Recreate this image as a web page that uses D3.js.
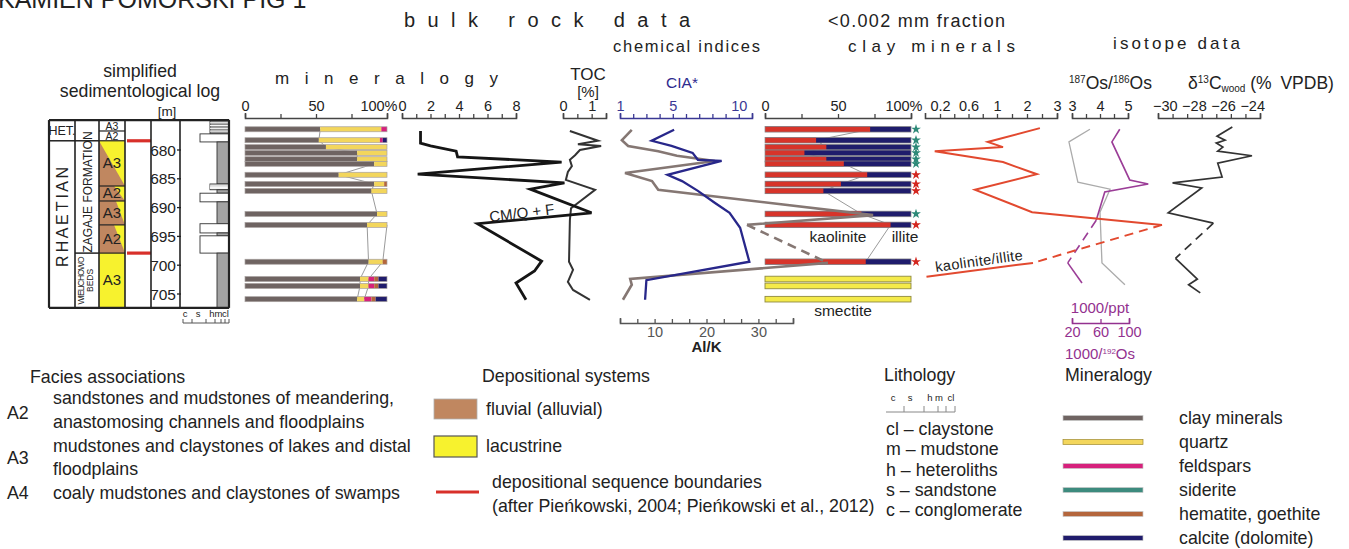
<!DOCTYPE html>
<html>
<head>
<meta charset="utf-8">
<script src="https://cdnjs.cloudflare.com/ajax/libs/d3/7.8.5/d3.min.js"></script>
<style>
  body { margin: 0; background: #fff; }
  text { font-family: "Liberation Sans", Arial, Helvetica, sans-serif; fill: #222; }
</style>
</head>
<body>
<script>
// ---- data ----
const depthTicks = [680, 685, 690, 695, 700, 705];
// sample depths of the bulk rock / clay fraction bars (m)
const sampleDepth = [676.4, 678.3, 679.5, 680.5, 681.6, 682.4, 684.3, 685.9, 687.1, 691.1, 693.0, 699.4, 702.4, 703.6, 705.9];

const mineralNames = ["clay minerals", "quartz", "feldspars", "siderite", "hematite, goethite", "calcite (dolomite)"];
const mineralColors = ["#6f6462", "#f3d65c", "#d6217c", "#3d8b7e", "#b4663c", "#201c6c"];
const clayPct     = [53, 52, 57, 79, 79, 91, 66, 91, 89, 93, 86, 87, 81, 81, 79];
const quartzPct   = [43, 43, 43, 21, 21,  9, 34,  7, 11,  7, 14, 10,  6,  6,  5];
const feldsparPct = [ 4,  2,  0,  0,  0,  0,  0,  0,  0,  0,  0,  0,  4,  4,  5];
const sideritePct = [ 0,  0,  0,  0,  0,  0,  0,  0,  0,  0,  0,  0,  0,  0,  0];
const hematitePct = [ 0,  0,  0,  0,  0,  0,  0,  2,  0,  0,  0,  3,  3,  3,  3];
const calcitePct  = [ 0,  3,  0,  0,  0,  0,  0,  0,  0,  0,  0,  0,  6,  6,  8];

// <0.002 mm fraction
const kaolinitePct = [72, 35, 42, 27, 42, 54, 70, 52, 40, 66, 86, 69, 0, 0, 0];
const smectitePct  = [ 0,  0,  0,  0,  0,  0,  0,  0,  0,  0,  0,  0, 100, 100, 100];
const starType = ["g", "g", "g", "g", "g", "g", "r", "r", "r", "g", "r", "r", null, null, null];

// CM/Q+F
const cmqfDepth = [676.7, 678.8, 679.3, 680.2, 681.2, 682.1, 684.2, 685.7, 686.8, 690.9, 692.8, 699.3, 701.0, 703.1, 706.0];
const cmqfValue = [1.3, 1.3, 2.0, 3.8, 3.9, 11.2, 1.1, 11.4, 9.0, 13.3, 5.3, 9.8, 9.3, 8.0, 8.7];
// TOC
const tocDepth = [676.7, 678.4, 679.0, 679.3, 680.0, 680.9, 681.7, 682.8, 683.8, 685.2, 686.9, 690.1, 692.2, 699.4, 700.8, 702.9, 704.3, 706.0];
const tocValue = [0.24, 1.22, 0.52, 1.33, 0.59, 0.42, 0.24, 0.31, 0.17, 0.10, 1.12, 0.28, 0.24, 0.21, 0.35, 0.17, 0.35, 0.94];
// CIA*
const ciaDepth = [676.5, 678.4, 679.3, 680.5, 681.7, 681.9, 684.3, 685.4, 687.1, 689.2, 690.9, 693.5, 699.4, 702.6, 706.0];
const ciaValue = [5.1, 3.4, 4.9, 6.5, 6.9, 8.7, 4.6, 5.7, 6.9, 8.2, 9.3, 10.1, 10.8, 3.0, 2.9];
// Al/K (segment 10 -> 11 dashed)
const alkDepth = [676.5, 678.3, 679.3, 680.2, 681.0, 681.9, 684.0, 685.4, 686.9, 691.3, 693.0, 699.6, 702.4, 703.4, 706.0];
const alkValue = [5.6, 3.7, 4.9, 10.7, 14.3, 21.6, 4.3, 9.5, 10.7, 52.1, 27.8, 43.4, 5.3, 5.6, 3.9];
// kaolinite/illite (segment 8 -> 9 dashed)
const kiDepth = [676.2, 678.6, 679.5, 680.2, 682.1, 684.2, 686.9, 690.8, 693.0, 699.6, 702.0];
const kiValue = [2.43, 0.87, 1.2, 0.13, 1.2, 2.33, 0.69, 2.17, 6.5, 2.2, 0.02];
// 187Os/186Os
const osDepth = [676.4, 678.6, 685.6, 686.8, 690.8, 699.6, 703.4];
const osValue = [3.64, 2.89, 3.21, 4.36, 4.0, 4.07, 4.89];
// 1000/192Os (segment 5 -> 6 dashed)
const puDepth = [676.4, 678.6, 685.2, 685.9, 687.3, 692.2, 699.6, 703.1];
const puValue = [87, 76, 101, 127, 66, 54, 14, 34];
// d13C wood (segment 12 -> 13 dashed)
const dcDepth = [676.0, 677.6, 678.3, 678.8, 679.5, 680.2, 681.0, 682.3, 684.7, 685.7, 686.6, 690.9, 692.7, 698.8, 702.4, 703.4, 704.8];
const dcValue = [-25.4, -26.45, -25.9, -26.5, -26.05, -26.4, -24.05, -26.4, -26.1, -29.5, -27.5, -29.8, -26.7, -29.3, -27.8, -28.4, -27.6];

// sedimentological log
const logTop = 674.8, logBottom = 707.4;
const stageCells = [{name: "HET.", top: 674.8, bot: 678.4}, {name: "R H A E T I A N", top: 678.4, bot: 707.4}];
const formationCells = [{name: "", top: 674.8, bot: 678.4}, {name: "ZAGAJE FORMATION", top: 678.4, bot: 697.9}, {name: "WIELICHOWO|BEDS", top: 697.9, bot: 707.4}];
const faciesCells = [
  {name: "A3", top: 674.8, bot: 676.7, lacTop: 0, lacBot: 0, white: true},
  {name: "A2", top: 676.7, bot: 678.4, lacTop: 0, lacBot: 0, white: true},
  {name: "A3", top: 678.4, bot: 686.25, lacTop: 1, lacBot: 0},
  {name: "A2", top: 686.25, bot: 688.85, lacTop: 0.42, lacBot: 0},
  {name: "A3", top: 688.85, bot: 693.0, lacTop: 0.35, lacBot: 0},
  {name: "A2", top: 693.0, bot: 697.9, lacTop: 0.42, lacBot: 0},
  {name: "A3", top: 697.9, bot: 707.4, lacTop: 1, lacBot: 1}
];
const sequenceBoundaries = [678.4, 697.9];
const grainSizes = ["c", "s", "h", "m", "cl"];
const lithoBeds = [
  {top: 674.8, bot: 677.2, g: "h"}, {top: 677.2, bot: 678.6, g: "s"}, {top: 678.6, bot: 685.9, g: "m"},
  {top: 685.9, bot: 686.9, g: "h"}, {top: 686.9, bot: 687.5, g: "m"}, {top: 687.5, bot: 689.0, g: "s"},
  {top: 689.0, bot: 692.8, g: "m"}, {top: 692.8, bot: 694.4, g: "s"}, {top: 694.4, bot: 694.9, g: "m"},
  {top: 694.9, bot: 697.9, g: "s"}, {top: 697.9, bot: 707.4, g: "m"}
];

// legends
const faciesCodes = ["A2", "A3", "A4"];
const faciesDescr = [
  ["sandstones and mudstones of meandering,", "anastomosing channels and floodplains"],
  ["mudstones and claystones of lakes and distal", "floodplains"],
  ["coaly mudstones and claystones of swamps"]
];
const lithoNames = ["cl \u2013 claystone", "m \u2013 mudstone", "h \u2013 heteroliths", "s \u2013 sandstone", "c \u2013 conglomerate"];

// ---- drawing ----
const W = 1349, H = 549;
const svg = d3.select("body").append("svg").attr("width", W).attr("height", H);
svg.append("rect").attr("width", W).attr("height", H).attr("fill", "#fff");

const y = d3.scaleLinear().domain([680, 705]).range([150, 294]);
const axisY = 118;
const legendFont = 17.8;

function txt(x, yy, s, size, opts = {}) {
  const t = svg.append("text").attr("x", x).attr("y", yy).attr("font-size", size).text(s);
  if (opts.anchor) t.attr("text-anchor", opts.anchor);
  if (opts.len) t.attr("textLength", opts.len).attr("lengthAdjust", "spacing");
  if (opts.fill) t.style("fill", opts.fill);
  if (opts.weight) t.attr("font-weight", opts.weight);
  if (opts.rotate != null) t.attr("transform", `rotate(${opts.rotate},${x},${yy})`);
  return t;
}

// cut-off header
txt(-2, 8, "KAMIE\u0143 POMORSKI PIG 1", 25);

// section titles
txt(404, 27, "bulk rock data", 20, {len: 286});
txt(828, 27, "<0.002 mm fraction", 18, {len: 177});
txt(613, 52, "chemical indices", 16.5, {len: 147});
txt(848, 52, "clay minerals", 17, {len: 167});
txt(1113, 49, "isotope data", 17, {len: 127});
txt(275, 84, "mineralogy", 17, {len: 223});
txt(140, 77, "simplified", 17.7, {anchor: "middle"});
txt(140, 97, "sedimentological log", 17.7, {anchor: "middle"});
txt(588, 80, "TOC", 17, {anchor: "middle"});
txt(588, 97, "[%]", 15, {anchor: "middle"});
txt(682, 88, "CIA*", 15.5, {anchor: "middle", fill: "#2e2b8e"});

const osT = svg.append("text").attr("x", 1069).attr("y", 89).attr("font-size", 17.5);
osT.append("tspan").attr("font-size", 10).attr("dy", -6).text("187");
osT.append("tspan").attr("dy", 6).text("Os/");
osT.append("tspan").attr("font-size", 10).attr("dy", -6).text("186");
osT.append("tspan").attr("dy", 6).text("Os");
const dcT = svg.append("text").attr("x", 1188).attr("y", 89).attr("font-size", 17.5);
dcT.append("tspan").text("\u03b4");
dcT.append("tspan").attr("font-size", 10).attr("dy", -6).text("13");
dcT.append("tspan").attr("dy", 6).text("C");
dcT.append("tspan").attr("font-size", 10).attr("dy", 3).text("wood");
dcT.append("tspan").attr("dy", -3).text(" (%\u2002VPDB)");

// ---- axes ----
function styleAxis(g, color) {
  g.select(".domain").attr("stroke", color).attr("stroke-width", 1.6);
  g.selectAll(".tick line").attr("stroke", color).attr("stroke-width", 1.3);
  g.selectAll(".tick text").attr("font-size", 14.5).attr("font-family", null).style("fill", color === "#444" ? "#222" : color);
  return g;
}
function topAxis(scale, ticks, labelFn, color = "#444") {
  const ax = d3.axisTop(scale).tickValues(ticks).tickSizeInner(4).tickSizeOuter(5).tickPadding(3)
    .tickFormat(labelFn);
  return styleAxis(svg.append("g").attr("transform", `translate(0,${axisY})`).call(ax), color);
}
function bottomAxis(scale, ticks, labelFn, yy, color) {
  const ax = d3.axisBottom(scale).tickValues(ticks).tickSizeInner(-4).tickSizeOuter(-5).tickPadding(4)
    .tickFormat(labelFn);
  return styleAxis(svg.append("g").attr("transform", `translate(0,${yy})`).call(ax), color);
}

const xMin = d3.scaleLinear().domain([0, 100]).range([245, 387]);
const gMin = topAxis(xMin, [0, 25, 50, 75, 100], d => d === 0 ? "0" : d === 50 ? "50" : d === 100 ? "100%" : "");
gMin.selectAll(".tick text").filter(d => d === 100).attr("text-anchor", "end").attr("dx", 10);

const xCm = d3.scaleLinear().domain([0, 8]).range([402, 516]);
topAxis(xCm, d3.range(0, 9), d => d % 2 === 0 ? d : "");

const xToc = d3.scaleLinear().domain([0, 1.5]).range([563, 606]);
topAxis(xToc, [0, 0.5, 1, 1.5], d => (d === 0 || d === 1) ? d : "");

const xCia = d3.scaleLinear().domain([1, 11]).range([620, 752]);
topAxis(xCia, d3.range(1, 12), d => [1, 5, 10].includes(d) ? d : "", "#3a3894");

const xClay = d3.scaleLinear().domain([0, 100]).range([765, 911]);
const gClay = topAxis(xClay, [0, 25, 50, 75, 100], d => d === 0 ? "0" : d === 50 ? "50" : d === 100 ? "100%" : "");
gClay.selectAll(".tick text").filter(d => d === 100).attr("text-anchor", "end").attr("dx", 11);

const xKi = d3.scaleLinear().domain([0, 0.2, 1, 2, 3]).range([925, 940, 997, 1027, 1057]);
topAxis(xKi, [0.2, 0.4, 0.6, 0.8, 1, 1.5, 2, 2.5, 3], d => [0.2, 0.6, 1, 2, 3].includes(d) ? d : "");

const xOs = d3.scaleLinear().domain([3, 5]).range([1072, 1128]);
topAxis(xOs, [3, 3.5, 4, 4.5, 5], d => Number.isInteger(d) ? d : "");

const xDc = d3.scaleLinear().domain([-30.5, -23.5]).range([1158, 1260]);
topAxis(xDc, d3.range(-30.5, -23.4, 1), () => "");
[-30, -28, -26, -24].forEach(v => txt(xDc(v), axisY - 7, "\u2212" + Math.abs(v), 14.5, {anchor: "middle"}));

// bottom axes: Al/K and 1000/192Os
const xAlk = d3.scaleLinear().domain([10 / 3, 110 / 3]).range([620, 793]);
bottomAxis(xAlk, d3.range(1, 12).map(k => k * 10 / 3),
  d => { const r = Math.round(d); return Math.abs(d - r) < 1e-6 && r % 10 === 0 ? r : ""; }, 323, "#555");
txt(xAlk(20), 352, "Al/K", 15, {anchor: "middle", weight: "bold"});

const xPu = d3.scaleLinear().domain([20, 100]).range([1072, 1129]);
bottomAxis(xPu, [20, 60, 100], d => d, 323, "#93318f");
txt(1100, 313, "1000/ppt", 15, {anchor: "middle", fill: "#93318f"});
const puT = svg.append("text").attr("x", 1100).attr("y", 359).attr("text-anchor", "middle").attr("font-size", 15).style("fill", "#93318f");
puT.append("tspan").text("1000/");
puT.append("tspan").attr("font-size", 8).attr("dy", -5).text("192");
puT.append("tspan").attr("dy", 5).text("Os");

// ---- sedimentological log ----
const logCols = [49, 75, 99, 125, 151, 180, 229];
const logG = svg.append("g");
const yTop = y(logTop), yBot = y(logBottom);

// facies fills
faciesCells.forEach(c => {
  const x0 = logCols[2], x1 = logCols[3], w = x1 - x0;
  const y0 = y(c.top), y1 = y(c.bot);
  if (!c.white) {
    logG.append("rect").attr("x", x0).attr("y", y0).attr("width", w).attr("height", y1 - y0).attr("fill", "#c08760");
    logG.append("path")
      .attr("d", `M${x1 - w * c.lacTop},${y0}L${x1},${y0}L${x1},${y1}L${x1 - w * c.lacBot},${y1}Z`)
      .attr("fill", "#f7f22e");
  }
  logG.append("line").attr("x1", x0).attr("x2", x1).attr("y1", y0).attr("y2", y0).attr("stroke", "#222").attr("stroke-width", 1.2);
  const small = c.bot - c.top < 2;
  logG.append("text").attr("x", (x0 + x1) / 2).attr("y", (y0 + y1) / 2 + (small ? 4 : 5)).attr("text-anchor", "middle")
    .attr("font-size", small ? 10.5 : 15).text(c.name);
});

// stage and formation cells
stageCells.forEach(c => {
  const x0 = logCols[0], x1 = logCols[1], y0 = y(c.top), y1 = y(c.bot);
  logG.append("line").attr("x1", x0).attr("x2", x1).attr("y1", y0).attr("y2", y0).attr("stroke", "#222").attr("stroke-width", 1.5);
  if (c.name === "HET.") {
    logG.append("text").attr("x", (x0 + x1) / 2).attr("y", (y0 + y1) / 2 + 4.5).attr("text-anchor", "middle").attr("font-size", 12.5).text(c.name);
  } else {
    txt((x0 + x1) / 2 + 6, 217, c.name, 16, {anchor: "middle", len: 100, rotate: -90});
  }
});
formationCells.forEach(c => {
  const x0 = logCols[1], x1 = logCols[2], y0 = y(c.top), y1 = y(c.bot);
  logG.append("line").attr("x1", x0).attr("x2", x1).attr("y1", y0).attr("y2", y0).attr("stroke", "#222").attr("stroke-width", 1.5);
  if (c.name.includes("|")) {
    const parts = c.name.split("|");
    txt(x0 + 9, (y0 + y1) / 2, parts[0], 8.5, {anchor: "middle", len: 48, rotate: -90});
    txt(x0 + 18, (y0 + y1) / 2, parts[1], 8.5, {anchor: "middle", rotate: -90});
  } else if (c.name) {
    txt((x0 + x1) / 2 + 5, 192, c.name, 12, {anchor: "middle", rotate: -90});
  }
});

// sequence boundaries
sequenceBoundaries.forEach(d => {
  logG.append("line").attr("x1", logCols[3] + 2).attr("x2", logCols[4]).attr("y1", y(d)).attr("y2", y(d))
    .attr("stroke", "#d8302a").attr("stroke-width", 3.2);
});

// depth labels
txt(167, 116, "[m]", 13.5, {anchor: "middle"});
depthTicks.forEach(d => {
  txt(176, y(d) + 5.5, d, 15.5, {anchor: "end"});
  logG.append("line").attr("x1", 177).attr("x2", 181).attr("y1", y(d)).attr("y2", y(d)).attr("stroke", "#222").attr("stroke-width", 1.3);
});

// lithology column
const grainX = d3.scaleOrdinal().domain(grainSizes).range([185, 200, 210, 217, 222]);
const litRight = logCols[6];
lithoBeds.forEach(b => {
  const x0 = grainX(b.g), y0 = y(b.top), y1 = y(b.bot);
  logG.append("rect").attr("x", x0).attr("y", y0).attr("width", litRight - x0).attr("height", y1 - y0)
    .attr("fill", b.g === "m" ? "#a3a3a3" : b.g === "h" ? "#8d8d8d" : "#fff")
    .attr("stroke", "#333").attr("stroke-width", 0.9);
  if (b.g === "h") {
    d3.range(1, 5).forEach(k => {
      const yy = y0 + (y1 - y0) * k / 5;
      logG.append("line").attr("x1", x0).attr("x2", litRight).attr("y1", yy).attr("y2", yy).attr("stroke", "#fff").attr("stroke-width", 1);
    });
  }
});

// log frame
logCols.forEach((x, i) => {
  logG.append("line").attr("x1", x).attr("x2", x).attr("y1", yTop).attr("y2", yBot)
    .attr("stroke", "#222").attr("stroke-width", i === 0 || i === logCols.length - 1 ? 2.2 : 1.6);
});
logG.append("line").attr("x1", logCols[0]).attr("x2", logCols[6]).attr("y1", yTop).attr("y2", yTop).attr("stroke", "#222").attr("stroke-width", 2.2);
logG.append("line").attr("x1", logCols[0]).attr("x2", logCols[6]).attr("y1", yBot).attr("y2", yBot).attr("stroke", "#222").attr("stroke-width", 2.2);

// grain size scale under the log
const gsLabelX = [185, 198, 212, 218.5, 225.5];
grainSizes.forEach((g, i) => txt(gsLabelX[i], 317, g, 9.5, {anchor: "middle"}));
logG.append("line").attr("x1", 183).attr("x2", litRight).attr("y1", 323).attr("y2", 323).attr("stroke", "#555");
[183, 192, 206, 215, 221, 225, litRight].forEach(x =>
  logG.append("line").attr("x1", x).attr("x2", x).attr("y1", 323).attr("y2", 319).attr("stroke", "#555"));

// ---- mineralogy bars ----
const mineralPct = [clayPct, quartzPct, feldsparPct, sideritePct, hematitePct, calcitePct];
const barH = 5;
const line = (xs, ys) => d3.line().x((_, i) => xs[i]).y((_, i) => ys[i]);

const clayCum = clayPct;
const cqCum = clayPct.map((c, i) => c + quartzPct[i]);
svg.append("path").attr("d", line(clayCum.map(xMin), sampleDepth.map(y))(clayCum))
  .attr("fill", "none").attr("stroke", "#9a9a9a").attr("stroke-width", 1);
svg.append("path").attr("d", line(cqCum.slice(10).map(xMin), sampleDepth.slice(10).map(y))(cqCum.slice(10)))
  .attr("fill", "none").attr("stroke", "#9a9a9a").attr("stroke-width", 1);

const minG = svg.append("g");
sampleDepth.forEach((d, i) => {
  let acc = 0;
  mineralPct.forEach((arr, k) => {
    const v = arr[i];
    if (v > 0) {
      minG.append("rect").attr("x", xMin(acc)).attr("y", y(d) - barH / 2).attr("width", xMin(acc + v) - xMin(acc)).attr("height", barH)
        .attr("fill", mineralColors[k]);
    }
    acc += v;
  });
  minG.append("rect").attr("x", xMin(0)).attr("y", y(d) - barH / 2).attr("width", xMin(100) - xMin(0)).attr("height", barH)
    .attr("fill", "none").attr("stroke", "#a8a2a0").attr("stroke-width", 0.7);
});

// ---- clay minerals bars ----
const kaolLine = kaolinitePct.slice(0, 12);
svg.append("path").attr("d", line(kaolLine.map(xClay), sampleDepth.slice(0, 12).map(y))(kaolLine))
  .attr("fill", "none").attr("stroke", "#9a9a9a").attr("stroke-width", 1);
const clayG = svg.append("g");
sampleDepth.forEach((d, i) => {
  const y0 = y(d) - 2.8, h = 5.6;
  if (smectitePct[i] > 0) {
    clayG.append("rect").attr("x", xClay(0)).attr("y", y0).attr("width", xClay(smectitePct[i]) - xClay(0)).attr("height", h)
      .attr("fill", "#f4ea4a").attr("stroke", "#8f8a40").attr("stroke-width", 0.9);
  } else {
    clayG.append("rect").attr("x", xClay(0)).attr("y", y0).attr("width", xClay(100) - xClay(0)).attr("height", h).attr("fill", "#1f1c6c");
    clayG.append("rect").attr("x", xClay(0)).attr("y", y0).attr("width", xClay(kaolinitePct[i]) - xClay(0)).attr("height", h).attr("fill", "#d7342a");
    clayG.append("rect").attr("x", xClay(0)).attr("y", y0).attr("width", xClay(100) - xClay(0)).attr("height", h)
      .attr("fill", "none").attr("stroke", "#8a8a8a").attr("stroke-width", 0.7);
  }
  if (starType[i]) {
    clayG.append("path").attr("d", d3.symbol().type(d3.symbolStar).size(30)())
      .attr("transform", `translate(${xClay(100) + 5},${y(d)})`)
      .attr("fill", starType[i] === "g" ? "#2e8a78" : "#d3261e");
  }
});
txt(838, 242, "kaolinite", 15.5, {anchor: "middle"});
txt(905, 242, "illite", 15.5, {anchor: "middle"});
txt(843, 316, "smectite", 15.5, {anchor: "middle"});

// ---- curves ----
function series(depths, values, xs, color, width, dashAt = -1) {
  const pts = depths.map((d, i) => [xs(values[i]), y(d)]);
  const gen = d3.line();
  const parts = dashAt < 0 ? [[pts, false]] :
    [[pts.slice(0, dashAt + 1), false], [pts.slice(dashAt, dashAt + 2), true], [pts.slice(dashAt + 1), false]];
  parts.forEach(([p, dashed]) => {
    if (p.length < 2) return;
    svg.append("path").attr("d", gen(p)).attr("fill", "none").attr("stroke", color).attr("stroke-width", width)
      .attr("stroke-linejoin", "miter").attr("stroke-dasharray", dashed ? "9,6" : null);
  });
}
series(tocDepth, tocValue, xToc, "#333", 2);
series(cmqfDepth, cmqfValue, xCm, "#151515", 2.8);
txt(490, 222, "CM/Q + F", 15, {rotate: -7});
series(alkDepth, alkValue, xAlk, "#857773", 2.6, 10);
series(ciaDepth, ciaValue, xCia, "#28278a", 2.3);
series(osDepth, osValue, xOs, "#ababab", 1.3);
series(puDepth, puValue, xPu, "#9b3d97", 1.6, 5);
series(kiDepth, kiValue, xKi, "#e2492f", 2, 8);
txt(936, 272, "kaolinite/illite", 14.5, {rotate: -8, len: 88});
series(dcDepth, dcValue, xDc, "#333", 1.7, 12);

// ---- legends ----
txt(30, 383, "Facies associations", legendFont);
const facLines = [[404, 428], [452, 475], [499]];
const facCodeY = [419, 464, 499];
faciesCodes.forEach((c, i) => {
  txt(7, facCodeY[i], c, legendFont);
  faciesDescr[i].forEach((s, j) => txt(53, facLines[i][j], s, legendFont));
});

txt(482, 382, "Depositional systems", legendFont);
svg.append("rect").attr("x", 434).attr("y", 399).attr("width", 43).attr("height", 20).attr("fill", "#c08760").attr("stroke", "#b0b0b0").attr("stroke-width", 0.8);
txt(486, 415, "fluvial (alluvial)", legendFont);
svg.append("rect").attr("x", 434).attr("y", 436).attr("width", 43).attr("height", 21).attr("fill", "#f7f22e").attr("stroke", "#555").attr("stroke-width", 1.2);
txt(486, 452, "lacustrine", legendFont);
svg.append("line").attr("x1", 436).attr("x2", 479).attr("y1", 492).attr("y2", 492).attr("stroke", "#d8302a").attr("stroke-width", 3);
txt(492, 488, "depositional sequence boundaries", legendFont);
txt(492, 512, "(after Pie\u0144kowski, 2004; Pie\u0144kowski et al., 2012)", legendFont);

txt(884, 381, "Lithology", legendFont);
const legGrain = d3.scaleOrdinal().domain(grainSizes).range([893, 910, 930, 939, 951]);
grainSizes.forEach(g => txt(legGrain(g), 401, g, 9.5, {anchor: "middle"}));
svg.append("line").attr("x1", 886).attr("x2", 955).attr("y1", 412).attr("y2", 412).attr("stroke", "#888");
[904, 924, 938, 946, 955].forEach(x =>
  svg.append("line").attr("x1", x).attr("x2", x).attr("y1", 412).attr("y2", 406).attr("stroke", "#888"));
lithoNames.forEach((s, i) => txt(886, 435 + i * 20.3, s, legendFont));

txt(1065, 381, "Mineralogy", legendFont);
mineralNames.forEach((s, i) => {
  const yy = 418 + i * 24;
  svg.append("rect").attr("x", 1063).attr("y", yy - 2.5).attr("width", 80).attr("height", 5)
    .attr("fill", mineralColors[i]).attr("stroke", i === 1 ? "#a08a30" : "#c8c8c8").attr("stroke-width", 0.7);
  txt(1179, yy + 6, s, legendFont);
});
</script>
</body>
</html>
